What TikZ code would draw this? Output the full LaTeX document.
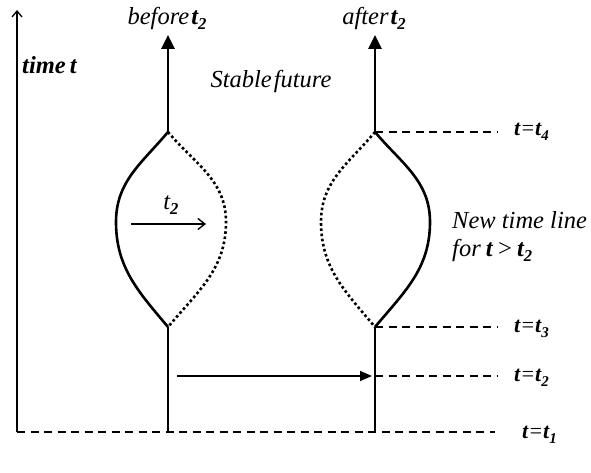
\documentclass[tikz,border=0pt]{standalone}
\usepackage{fontspec}
\usepackage{graphicx}
\setmainfont{Liberation Serif}
\usetikzlibrary{arrows.meta}
\newcommand\subb[1]{\raisebox{-0.45ex}{\scalebox{0.68}{\bfseries\itshape #1}}}
\newcommand\bt{\textbf{\textit{t}}}
\begin{document}
\begin{tikzpicture}[x=1pt,y=1pt,
  lbl/.style={font=\fontsize{24.5}{28}\selectfont\itshape, inner sep=0pt},
  tlbl/.style={font=\fontsize{22}{26}\selectfont\itshape, inner sep=0pt, anchor=west},
  tline/.style={line width=2.6pt},
  tarrow/.style={line width=2.6pt, -{Triangle[width=13pt,length=14pt]}},
  axis/.style={line width=1.3pt, -{Straight Barb[width=10pt,length=6pt,line width=1.3pt]}},
  dotline/.style={line width=2.6pt, dash pattern=on 2.6pt off 2.6pt},
  dashline/.style={line width=1.4pt, dash pattern=on 8pt off 5.5pt},
  harrow/.style={line width=1.4pt, -{Triangle[width=10pt,length=12pt]}},
  innerarrow/.style={line width=1.4pt, -{Straight Barb[width=11pt,length=7pt,line width=1.4pt]}}]
\useasboundingbox (0,0) rectangle (591,473);
% coordinates
\coordinate (ax0) at (17,41);
\coordinate (ax1) at (17,463);
\coordinate (L0) at (168,41);
\coordinate (Lb) at (168,146);
\coordinate (Lt) at (168,341);
\coordinate (L1) at (168,438);
\coordinate (Lw) at (116,251);
\coordinate (Le) at (226,251);
\coordinate (R0) at (375,41);
\coordinate (Rb) at (375,146);
\coordinate (Rt) at (375,341);
\coordinate (R1) at (375,438);
\coordinate (Rw) at (321,251);
\coordinate (Re) at (430,251);
\coordinate (d1) at (495,41);
\coordinate (d2s) at (375,97);
\coordinate (d2) at (497,97);
\coordinate (d3) at (497,146);
\coordinate (d4) at (497,341);
\coordinate (h0) at (177,97);
\coordinate (h1) at (372,97);
\coordinate (i0) at (131,249);
\coordinate (i1) at (206,249);
% axis
\draw[axis] (ax0) -- (ax1);
\draw[dashline] (ax0) -- (d1);
% left time line
\draw[tline] (L0) -- (Lb);
\draw[tarrow] (Lt) -- (L1);
\draw[tline] (Lt) to[out=230,in=90] (Lw) to[out=-90,in=130] (Lb);
\draw[dotline] (Lt) to[out=-50,in=90] (Le) to[out=-90,in=50] (Lb);
% right time line
\draw[tline] (R0) -- (Rb);
\draw[tarrow] (Rt) -- (R1);
\draw[dotline] (Rt) to[out=230,in=90] (Rw) to[out=-90,in=130] (Rb);
\draw[tline] (Rt) to[out=-50,in=90] (Re) to[out=-90,in=50] (Rb);
% dashed levels
\draw[dashline] (Rt) -- (d4);
\draw[dashline] (Rb) -- (d3);
\draw[dashline] (d2s) -- (d2);
% arrows
\draw[harrow] (h0) -- (h1);
\draw[innerarrow] (i0) -- (i1);
% labels
\node[lbl, anchor=west] (timet) at (22,408) {\textbf{time\hspace{4pt}t}};
\node[lbl] (before) at (167,455) {before\hspace{2pt}\bt\subb{2}};
\node[lbl] (after) at (374,455) {after\hspace{2pt}\bt\subb{2}};
\node[lbl] (stable) at (271,392) {Stable\hspace{2pt}future};
\node[lbl] (t2in) at (171,268) {t\subb{2}};
\node[lbl, anchor=west, align=left] (newtl) at (452,236) {New time line\\ for\hspace{5pt}\bt\hspace{5pt}\textup{>}\hspace{5pt}\bt\subb{2}};
\node[tlbl] (lt4) at (514,341) {\bt=\bt\subb{4}};
\node[tlbl] (lt3) at (514,144) {\bt=\bt\subb{3}};
\node[tlbl] (lt2) at (514,95) {\bt=\bt\subb{2}};
\node[tlbl] (lt1) at (522,38) {\bt=\bt\subb{1}};
\end{tikzpicture}
\end{document}
